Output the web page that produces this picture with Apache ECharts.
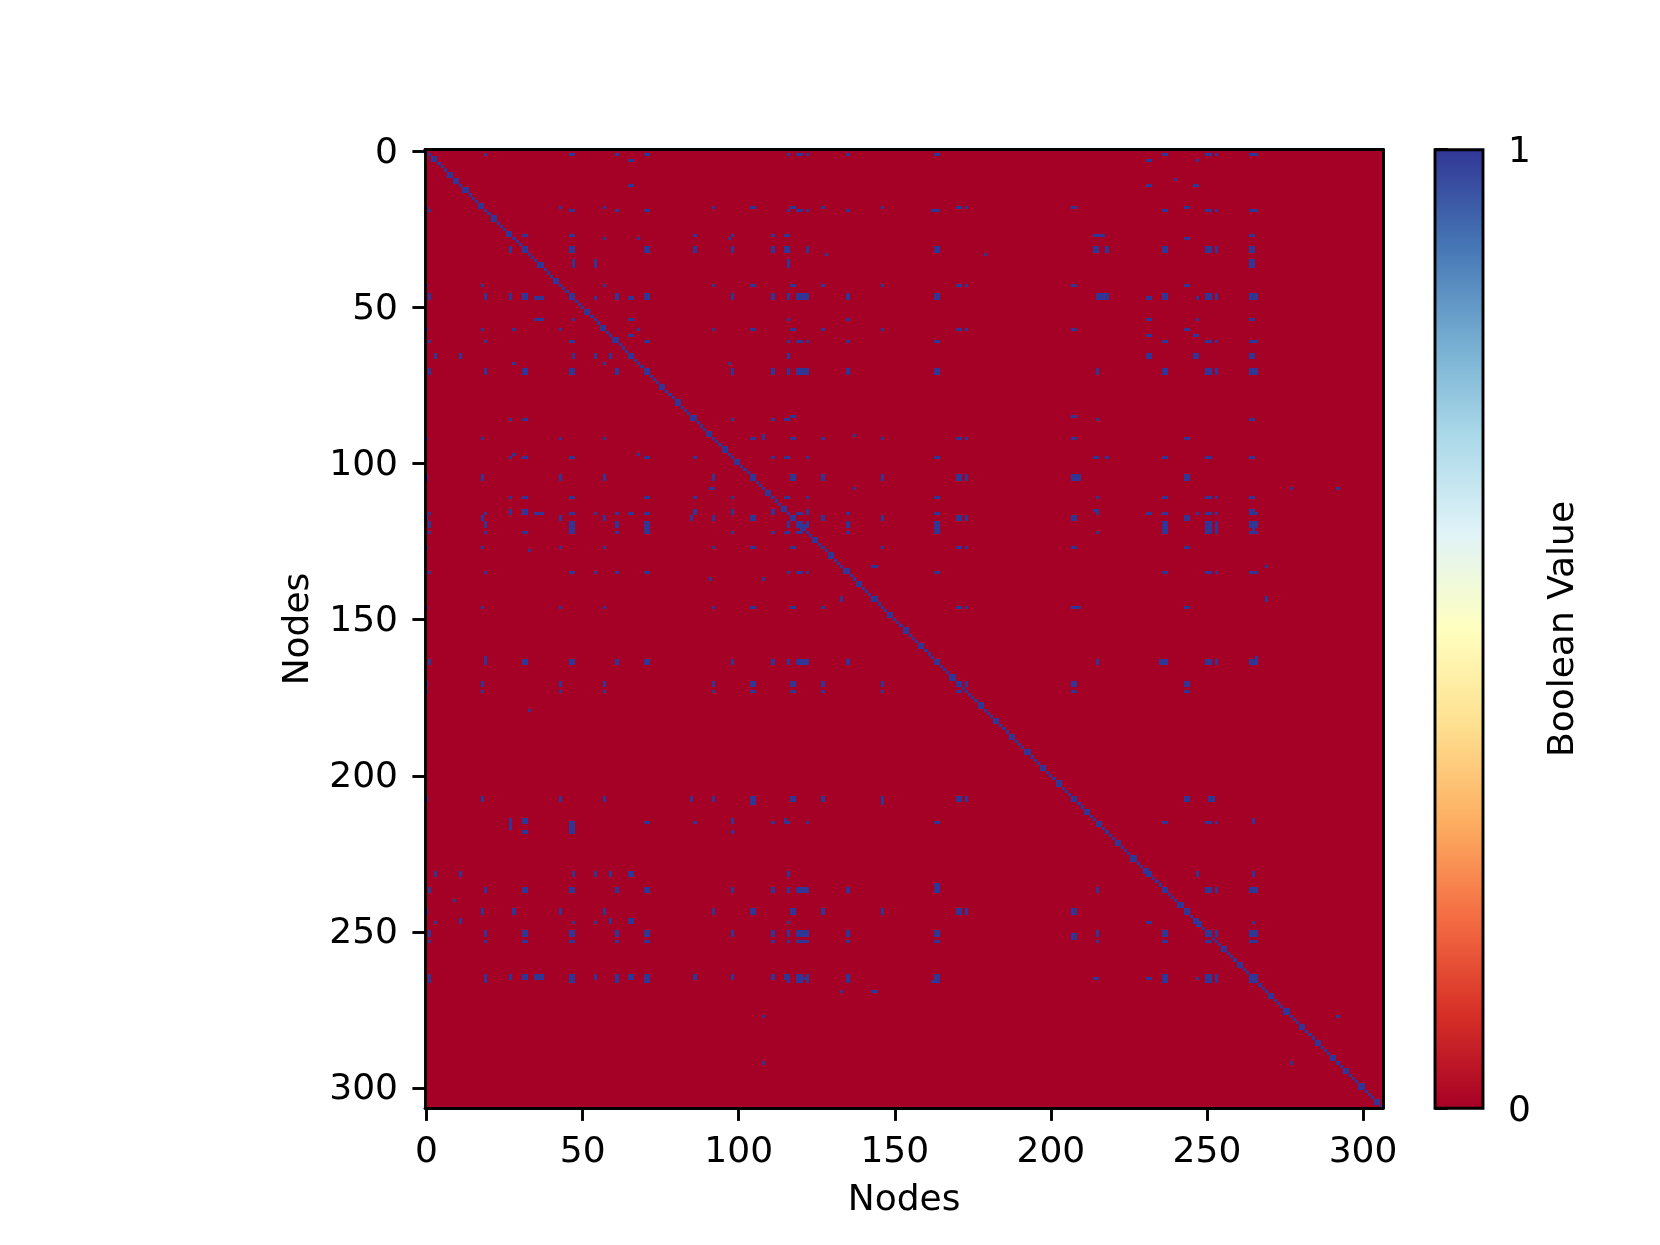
<!DOCTYPE html>
<html>
<head>
<meta charset="utf-8">
<title>Adjacency matrix</title>
<script src="https://cdn.jsdelivr.net/npm/echarts@6/dist/echarts.min.js"></script>
<style>
  html, body { margin: 0; padding: 0; background: #fff; }
  #chart { width: 1660px; height: 1245px; }
</style>
</head>
<body>
<div id="chart"></div>
<script>
const nodeCount = 307
const tickStep = 50
const axisTitle = 'Nodes'
const colorbarTitle = 'Boolean Value'
const colorbarTicks = [0, 1]
// RdYlBu, low to high
const paletteColors = ['#a50026', '#d73027', '#f46d43', '#fdae61', '#fee090', '#ffffbf', '#e0f3f8', '#abd9e9', '#74add1', '#4575b4', '#313695']

// node id and the nodes it links to (mirrored when the cells are built)
const familyA = [1, 19, 46, 61, 70, 116, 119, 120, 122, 135, 163, 236, 250, 253, 264, 265, 266]
const familyB = [0, 18, 43, 57, 92, 104, 117, 127, 146, 170, 173, 207, 243]
const linkNodes = [3, 11, 9, 27, 28, 31, 33, 35, 36, 37, 47, 54, 46, 70, 59, 65, 68, 85, 86, 98, 91, 108, 111, 115, 116, 121, 122, 133, 143, 144, 163, 162, 164, 208, 209, 214, 215, 216, 217, 218, 231, 246, 247, 253, 265, 264, 266, 277]
const linkTargets = [
  [65, 231, 247],
  [65, 231, 247, 246],
  [240],
  [31, 46, 86, 98, 111, 115, 116, 214, 215, 216, 217, 265],
  [57, 68, 97, 243],
  [46, 70, 86, 98, 111, 115, 116, 122, 163, 214, 215, 218, 236, 250, 253, 265],
  [128, 179],
  [47, 54, 116, 265],
  [47, 54, 116, 265],
  [47, 54, 116, 265],
  [54, 65, 116, 231, 247, 265],
  [65, 116, 135, 231, 247, 265],
  [27, 98, 111, 121, 216, 217, 218, 215],
  [98, 111, 121, 215],
  [65, 66, 231, 232, 246, 247],
  [116, 232, 246, 231, 247, 265],
  [28, 57, 97],
  [117, 207],
  [98, 111, 115, 116, 215, 265],
  [111, 115, 116, 122, 163, 215, 218, 236, 250, 265],
  [108, 137],
  [137, 277, 292],
  [115, 116, 122, 163, 215, 236, 250, 253, 265],
  [122, 214, 215, 265],
  [122, 163, 215, 231, 236, 247, 250, 253, 265],
  [163, 236, 250, 253, 265],
  [135, 163, 215, 236, 250, 253, 265],
  [143, 144, 269],
  [269],
  [269],
  [215, 235, 251, 121],
  [19, 266],
  [1, 70, 119],
  [104, 127],
  [104, 146],
  [98, 265],
  [236, 250, 253, 265],
  [27, 46],
  [46],
  [98],
  [247, 265],
  [59, 65],
  [265],
  [215, 236],
  [121, 231],
  [27, 31, 35, 36, 37, 46, 54, 61, 65, 70, 86, 98, 111, 115, 119, 120],
  [1, 19, 46, 61, 70, 119, 120, 163, 236, 250],
  [292]
]
const extraPairs = [[173, 170], [170, 207], [173, 207], [252, 207], [207, 85], [251, 207], [57, 28], [57, 68], [92, 108], [18, 43]]
// blocks that read about two cells wide
const wideNodes = [31, 46, 70, 104, 117, 163, 170, 207, 236, 243, 250, 65, 231]
// places where the diagonal reads as a small square
const diagonalBlocks = [2, 7, 9, 12, 17, 21, 26, 31, 36, 41, 46, 51, 56, 60, 65, 70, 75, 80, 85, 90, 95, 99, 104, 109, 114, 117, 119, 120, 124, 129, 134, 138, 143, 148, 153, 158, 163, 168, 170, 177, 182, 187, 192, 197, 202, 207, 211, 215, 221, 226, 230, 231, 236, 241, 243, 246, 247, 250, 255, 260, 264, 265, 270, 275, 280, 285, 290, 294, 299, 304]

const nodes = Array.from({ length: nodeCount }, (_, i) => String(i))
const fontFamily = '"DejaVu Sans", sans-serif'

function buildCells() {
  const on = new Set()
  const put = (a, b) => {
    on.add(a + ':' + b)
    on.add(b + ':' + a)
  }
  const link = (a, b) => {
    put(a, b)
    if (wideNodes.includes(a)) put(a + 1, b)
    if (wideNodes.includes(b)) put(a, b + 1)
    if (wideNodes.includes(a) && wideNodes.includes(b)) put(a + 1, b + 1)
  }
  familyB.forEach((a, i) => familyB.slice(i + 1).forEach(b => link(a, b)))
  familyA.forEach((a, i) => familyA.slice(i + 1).forEach(b => link(a, b)))
  linkNodes.forEach((a, i) => linkTargets[i].forEach(b => link(a, b)))
  extraPairs.forEach(p => link(p[0], p[1]))
  for (let i = 0; i < nodeCount; i++) put(i, i)
  diagonalBlocks.forEach(i => put(i, i + 1))
  // node 0 only shows as a column in the picture, its row sits behind the top spine
  familyB.forEach(b => {
    if (b !== 0) {
      on.delete(b + ':0')
      on.delete((b + 1) + ':0')
    }
  })

  const zeros = []
  const ones = []
  for (let y = 0; y < nodeCount; y++) {
    for (let x = 0; x < nodeCount; x++) {
      if (on.has(x + ':' + y)) ones.push([x, y, 1])
      else zeros.push([x, y, 0])
    }
  }
  return zeros.concat(ones)
}

function renderCell(params, api) {
  const c = api.coord([api.value(0), api.value(1)])
  const s = api.size([1, 1])
  const x0 = Math.round(c[0] - s[0] / 2)
  const x1 = Math.round(c[0] + s[0] / 2)
  const y0 = Math.round(c[1] - s[1] / 2)
  const y1 = Math.round(c[1] + s[1] / 2)
  return {
    type: 'rect',
    shape: { x: x0, y: y0, width: x1 - x0, height: y1 - y0 },
    style: { fill: api.visual('color') }
  }
}

function renderColorbar(params) {
  const box = params.coordSys
  return {
    type: 'rect',
    shape: { x: box.x, y: box.y, width: box.width, height: box.height },
    style: {
      fill: new echarts.graphic.LinearGradient(0, 1, 0, 0, paletteColors.map((color, i) => ({
        offset: i / (paletteColors.length - 1),
        color
      }))),
      stroke: '#000',
      lineWidth: 2.9
    }
  }
}

const showTick = i => i % tickStep === 0
const spine = { show: true, lineStyle: { color: '#000', width: 2.9 } }
const tickStyle = { show: true, alignWithLabel: true, interval: showTick, length: 12.6, lineStyle: { color: '#000', width: 2.9 } }
const labelStyle = { color: '#000', fontSize: 36, fontFamily, interval: showTick }
const nameStyle = { color: '#000', fontSize: 36, fontFamily }

const chart = echarts.init(document.getElementById('chart'), null, { renderer: 'canvas' })
chart.setOption({
  backgroundColor: '#fff',
  animation: false,
  grid: [
    { left: 425, top: 149.7, width: 958.3, height: 958.6 },
    { left: 1435, top: 149.7, width: 48, height: 958.6 }
  ],
  visualMap: {
    show: false,
    min: 0,
    max: 1,
    dimension: 2,
    seriesIndex: 0,
    inRange: { color: paletteColors }
  },
  xAxis: [
    {
      gridIndex: 0,
      type: 'category',
      data: nodes,
      position: 'bottom',
      z: 10,
      axisLine: spine,
      axisTick: tickStyle,
      axisLabel: Object.assign({ margin: 26 }, labelStyle),
      splitLine: { show: false },
      name: axisTitle,
      nameLocation: 'middle',
      nameGap: 74,
      nameTextStyle: nameStyle
    },
    {
      gridIndex: 0,
      type: 'category',
      data: nodes,
      position: 'top',
      z: 10,
      axisLine: spine,
      axisTick: { show: false },
      axisLabel: { show: false }
    },
    {
      gridIndex: 1,
      type: 'value',
      min: 0,
      max: 1,
      show: false
    }
  ],
  yAxis: [
    {
      gridIndex: 0,
      type: 'category',
      data: nodes,
      inverse: true,
      position: 'left',
      z: 10,
      axisLine: spine,
      axisTick: tickStyle,
      axisLabel: Object.assign({ margin: 27, verticalAlign: 'top', lineHeight: 4 }, labelStyle),
      splitLine: { show: false },
      name: axisTitle,
      nameLocation: 'middle',
      nameGap: 108,
      nameRotate: 90,
      nameTextStyle: nameStyle
    },
    {
      gridIndex: 0,
      type: 'category',
      data: nodes,
      inverse: true,
      position: 'right',
      z: 10,
      axisLine: spine,
      axisTick: { show: false },
      axisLabel: { show: false }
    },
    {
      gridIndex: 1,
      type: 'value',
      position: 'right',
      min: colorbarTicks[0],
      max: colorbarTicks[1],
      interval: 1,
      z: 10,
      axisLine: { show: false },
      axisTick: { show: true, length: 12.6, lineStyle: { color: '#000', width: 2.9 } },
      axisLabel: { color: '#000', fontSize: 36, fontFamily, margin: 25, verticalAlign: 'top', lineHeight: 6 },
      splitLine: { show: false },
      name: colorbarTitle,
      nameLocation: 'middle',
      nameGap: 63,
      nameRotate: 90,
      nameTextStyle: nameStyle
    }
  ],
  series: [
    {
      type: 'custom',
      coordinateSystem: 'cartesian2d',
      xAxisIndex: 0,
      yAxisIndex: 0,
      silent: true,
      clip: true,
      progressive: 0,
      encode: { x: 0, y: 1 },
      renderItem: renderCell,
      data: buildCells()
    },
    {
      type: 'custom',
      coordinateSystem: 'cartesian2d',
      xAxisIndex: 2,
      yAxisIndex: 2,
      silent: true,
      renderItem: renderColorbar,
      data: [[0, 0]]
    }
  ]
})
</script>
</body>
</html>
